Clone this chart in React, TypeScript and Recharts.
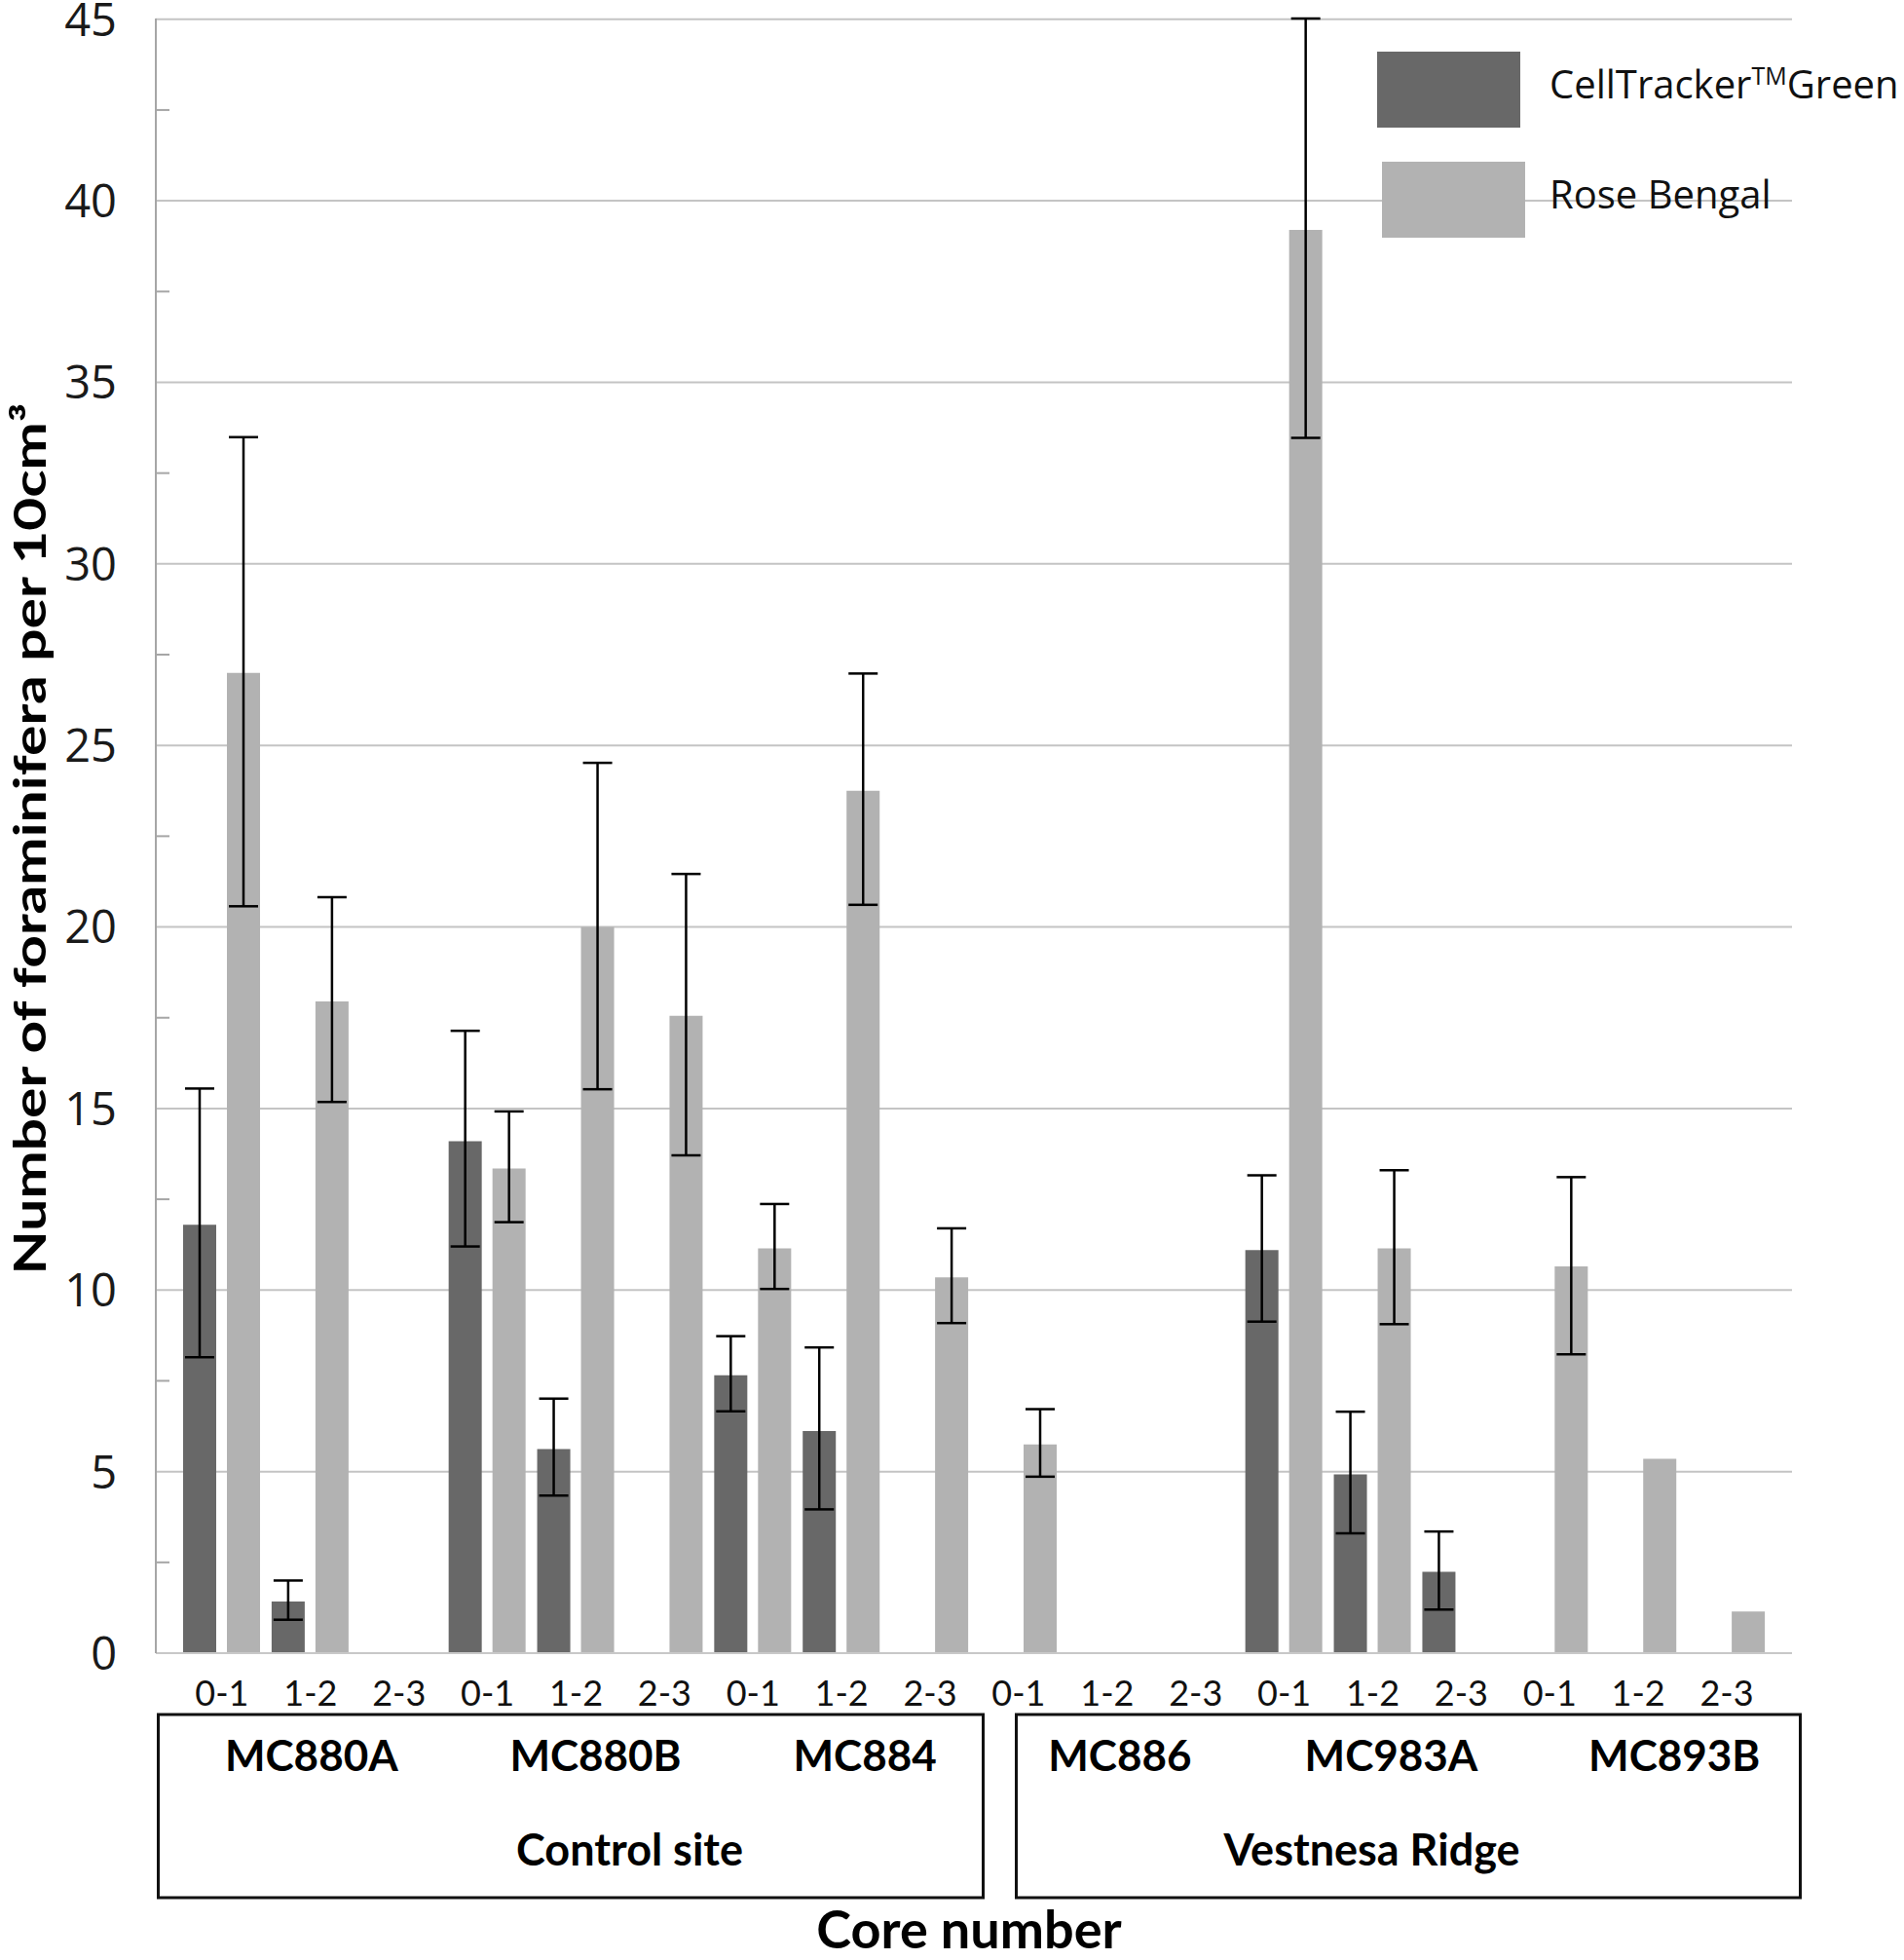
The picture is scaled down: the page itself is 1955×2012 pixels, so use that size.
import React from 'react';
import { BarChart, Bar, XAxis, YAxis, CartesianGrid, ErrorBar, Legend } from 'recharts';

// categories
const cores = ['MC880A', 'MC880B', 'MC884', 'MC886', 'MC983A', 'MC893B'];
const coreSite = ['Control site', 'Control site', 'Control site', 'Vestnesa Ridge', 'Vestnesa Ridge', 'Vestnesa Ridge'];
const sites = ['Control site', 'Vestnesa Ridge'];
const depths = ['0-1', '1-2', '2-3'];

// series values (per core, per depth) and error bars [minus, plus]
const cellTracker = [11.8, 1.42, 0, 14.1, 5.62, 0, 7.65, 6.12, 0, 0, 0, 0, 11.1, 4.92, 2.24, 0, 0, 0];
const cellTrackerErr = [
  [3.65, 3.75], [0.5, 0.58], null, [2.9, 3.04], [1.28, 1.39], null,
  [0.99, 1.08], [2.16, 2.3], null, null, null, null,
  [1.97, 2.06], [1.62, 1.73], [1.04, 1.11], null, null, null,
];
const roseBengal = [27.0, 17.95, 0, 13.35, 20.0, 17.55, 11.15, 23.75, 10.35, 5.75, 0, 0, 39.2, 11.15, 0, 10.65, 5.35, 1.15];
const roseBengalErr = [
  [6.43, 6.49], [2.77, 2.87], null, [1.48, 1.57], [4.47, 4.52], [3.84, 3.91],
  [1.12, 1.22], [3.14, 3.23], [1.26, 1.35], [0.89, 0.97], null, null,
  [5.73, 5.82], [2.09, 2.15], null, [2.42, 2.46], null, null,
];

// y tick values (labels every 5, minor marks between)
const yTicks = [0, 2.5, 5, 7.5, 10, 12.5, 15, 17.5, 20, 22.5, 25, 27.5, 30, 32.5, 35, 37.5, 40, 42.5, 45];
const yGrid = [5, 10, 15, 20, 25, 30, 35, 40, 45];

const rows = cores.flatMap((core, c) =>
  depths.map((depth, d) => {
    const i = c * 3 + d;
    return {
      key: `${core} ${depth}`,
      core,
      depth,
      site: coreSite[c],
      ctg: cellTracker[i],
      ctgErr: cellTrackerErr[i],
      rb: roseBengal[i],
      rbErr: roseBengalErr[i],
    };
  })
);

// layout tweaks for the hand-drawn label boxes
const CORE_LABEL_DX = [1, 20, 24, 13, 19, 37];
const SITE_BOX = [[-429, 418], [-366, 439]];
const SITE_LABEL_DX = [55, -1];

const siteMid = sites.map((s) => {
  const idx = rows.map((r, i) => (r.site === s ? i : -1)).filter((i) => i >= 0);
  return (idx[0] + idx[idx.length - 1]) / 2;
});

const FONT = 'Lato, "Open Sans", sans-serif';

const CategoryTick = (props: any) => {
  const { x, y, index } = props;
  const row = rows[index];
  const c = Math.floor(index / 3);
  const d = index % 3;
  const s = siteMid.indexOf(index);
  return (
    <g>
      <text x={x} y={y + 54} textAnchor="middle" fontFamily={FONT} fontSize={36} fill="#111">
        {row.depth}
      </text>
      {d === 1 && (
        <text x={x + CORE_LABEL_DX[c]} y={y + 121} textAnchor="middle" fontFamily={FONT} fontWeight="bold" fontSize={44} fill="#000">
          {row.core}
        </text>
      )}
      {s >= 0 && (
        <g>
          <rect
            x={x + SITE_BOX[s][0]}
            y={y + 63}
            width={SITE_BOX[s][1] - SITE_BOX[s][0]}
            height={188}
            fill="none"
            stroke="#111"
            strokeWidth={3}
          />
          <text x={x + SITE_LABEL_DX[s]} y={y + 218} textAnchor="middle" fontFamily={FONT} fontWeight="bold" fontSize={45} fill="#000">
            {sites[s]}
          </text>
        </g>
      )}
    </g>
  );
};

const ValueTick = (props: any) => {
  const { x, y, payload } = props;
  const v = payload.value;
  if (v % 5 !== 0) {
    return <line x1={x + 40} x2={x + 54} y1={y} y2={y} stroke="#a6a6a6" strokeWidth={2} />;
  }
  return (
    <text x={x} y={y} dy="0.36em" textAnchor="end" fontFamily='"Open Sans", sans-serif' fontSize={47} fill="#1a1a1a">
      {v}
    </text>
  );
};

const YLabel = (props: any) => {
  const vb = props.viewBox || { x: 0, y: 19, width: 160, height: 1678 };
  const cx = vb.x + 47;
  const cy = vb.y + vb.height / 2 + 3;
  return (
    <text
      x={cx}
      y={cy}
      transform={`rotate(-90, ${cx}, ${cy})`}
      textAnchor="middle"
      fontFamily={FONT}
      fontWeight="bold"
      fontSize={45}
      textLength={895}
      lengthAdjust="spacingAndGlyphs"
      fill="#000"
    >
      Number of foraminifera per 10cm³
    </text>
  );
};

const XLabel = (props: any) => {
  const vb = props.viewBox || { x: 160, y: 1697, width: 1680, height: 315 };
  return (
    <text x={vb.x + vb.width / 2 - 5} y={vb.y + 303} textAnchor="middle" fontFamily={FONT} fontWeight="bold" fontSize={54} fill="#000">
      Core number
    </text>
  );
};

const LegendContent = (props: any) => {
  const payload = props.payload || [];
  const boxes = [
    { x: 0, y: 0 },
    { x: 5, y: 113 },
  ];
  return (
    <svg width={560} height={200} style={{ overflow: 'visible' }}>
      {payload.map((p: any, i: number) => {
        const b = boxes[i] || boxes[0];
        const name = String(p.value);
        const parts = name.split('™');
        return (
          <g key={name}>
            <rect x={b.x} y={b.y} width={147} height={78} fill={p.color} />
            <text x={177} y={b.y + 48} fontFamily='"Open Sans", sans-serif' fontSize={40} fill="#111">
              {parts.length > 1 ? (
                <>
                  {parts[0]}
                  <tspan fontSize={25} dy={-14}>TM</tspan>
                  <tspan dy={14}>{parts[1]}</tspan>
                </>
              ) : (
                name
              )}
            </text>
          </g>
        );
      })}
    </svg>
  );
};

export default function App() {
  return (
    <div style={{ position: 'absolute', left: 0, top: 0, background: '#fff' }}>
      <BarChart
        width={1955}
        height={2012}
        data={rows}
        margin={{ top: 19, right: 115, bottom: 0, left: 0 }}
        barCategoryGap={5.5}
        barGap={11}
      >
        <CartesianGrid vertical={false} horizontalValues={yGrid} stroke="#c4c4c4" strokeWidth={2} />
        <XAxis
          dataKey="key"
          interval={0}
          height={315}
          tickLine={false}
          tickSize={0}
          tickMargin={0}
          padding={{ left: 22.5, right: 21.5 }}
          axisLine={{ stroke: '#c8c8c8', strokeWidth: 2 }}
          tick={<CategoryTick />}
          label={<XLabel />}
        />
        <YAxis
          type="number"
          domain={[0, 45]}
          ticks={yTicks}
          interval={0}
          width={160}
          tickLine={false}
          tickSize={0}
          tickMargin={40}
          axisLine={{ stroke: '#a6a6a6', strokeWidth: 2 }}
          tick={<ValueTick />}
          label={<YLabel />}
        />
        <Legend
          layout="vertical"
          align="center"
          verticalAlign="middle"
          wrapperStyle={{ left: 1414, top: 53, width: 560, height: 200 }}
          content={<LegendContent />}
        />
        <Bar dataKey="ctg" name="CellTracker™Green" fill="#686868" isAnimationActive={false}>
          <ErrorBar dataKey="ctgErr" direction="y" width={15} stroke="#000" strokeWidth={2.5} />
        </Bar>
        <Bar dataKey="rb" name="Rose Bengal" fill="#b2b2b2" isAnimationActive={false}>
          <ErrorBar dataKey="rbErr" direction="y" width={15} stroke="#000" strokeWidth={2.5} />
        </Bar>
      </BarChart>
    </div>
  );
}
